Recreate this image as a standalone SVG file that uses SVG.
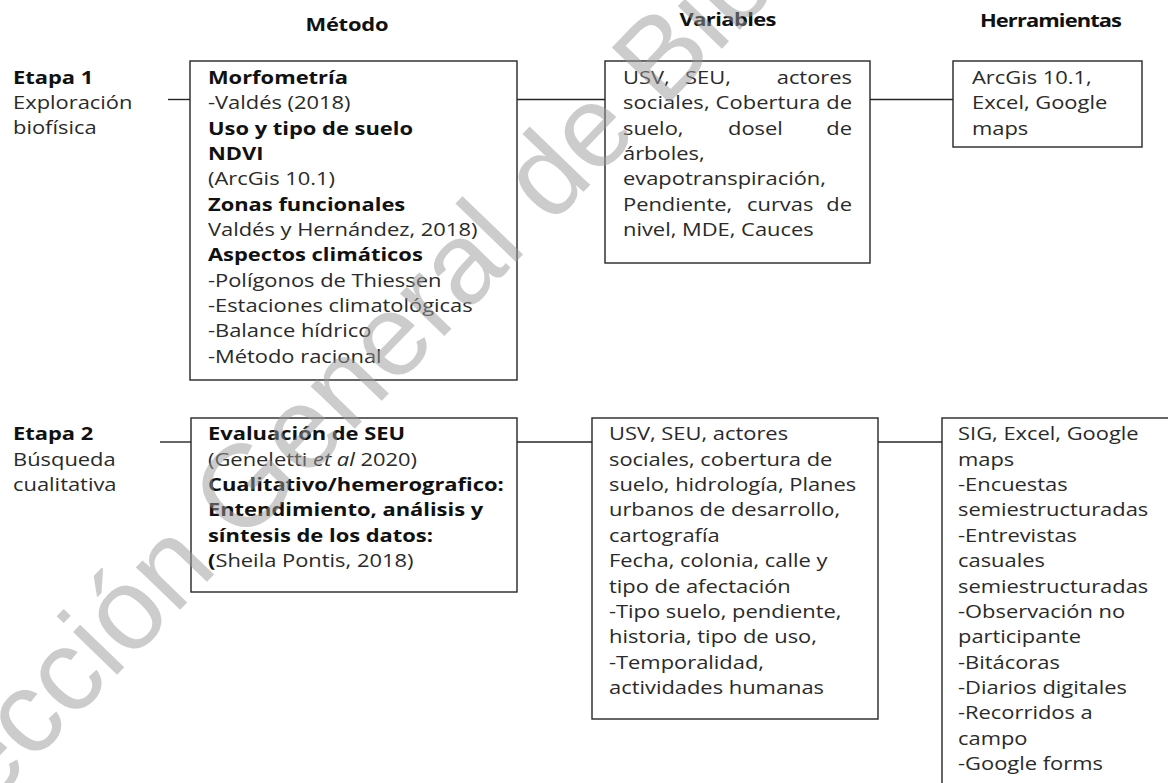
<svg xmlns="http://www.w3.org/2000/svg" width="1168" height="783" viewBox="0 0 1168 783">
<style>
.box{fill:#fff;stroke:#262626;stroke-width:1.4}
.ln{stroke:#262626;stroke-width:1.4;fill:none}
text{font-family:"Open Sans","Liberation Sans",sans-serif;font-size:18px;fill:#2a2a2a}
.b{font-weight:bold;fill:#111}
.h{font-weight:bold;fill:#111;text-anchor:middle}
.e{text-anchor:end}
.wm{font-family:"Liberation Sans",Arial,sans-serif;font-size:116px;fill:#9a9a9a;opacity:0.5}
</style>
<g id="connectors">
<line class="ln" x1="168" y1="99.5" x2="190" y2="99.5"/>
<line class="ln" x1="517" y1="99.5" x2="605" y2="99.5"/>
<line class="ln" x1="870" y1="99.5" x2="953" y2="99.5"/>
<line class="ln" x1="160" y1="442" x2="191" y2="442"/>
<line class="ln" x1="517" y1="442" x2="592" y2="442"/>
<line class="ln" x1="878" y1="442" x2="942" y2="442"/>
</g>
<g id="box-metodo1"><rect class="box" x="190" y="61" width="327" height="319"/></g>
<g id="box-variables1"><rect class="box" x="605" y="61" width="265" height="202"/></g>
<g id="box-herramientas1"><rect class="box" x="953" y="61" width="189" height="86"/></g>
<g id="box-metodo2"><rect class="box" x="191" y="418" width="326" height="174"/></g>
<g id="box-variables2"><rect class="box" x="592" y="418" width="286" height="301"/></g>
<g id="box-herramientas2"><rect class="box" x="942" y="418" width="260" height="400"/></g>
<g id="texts" transform="scale(1.217 1)">
<g id="headers">
<text class="h" x="285.1" y="31" textLength="68.2">Método</text>
<text class="h" x="598.2" y="26" textLength="79.7">Variables</text>
<text class="h" x="863.6" y="27" textLength="116.7">Herramientas</text>
</g>
<g id="etapa1">
<text class="b" x="10.7" y="84">Etapa 1</text>
<text x="10.7" y="109">Exploración</text>
<text x="10.7" y="134">biofísica</text>
</g>
<g id="metodo1-text">
<text class="b" x="170.9" y="84">Morfometría</text>
<text x="170.9" y="109.4">-Valdés (2018)</text>
<text class="b" x="170.9" y="134.7">Uso y tipo de suelo</text>
<text class="b" x="170.9" y="160">NDVI</text>
<text x="170.9" y="185.4">(ArcGis 10.1)</text>
<text class="b" x="170.9" y="210.8">Zonas funcionales</text>
<text x="170.9" y="236.1">Valdés y Hernández, 2018)</text>
<text class="b" x="170.9" y="261.5">Aspectos climáticos</text>
<text x="170.9" y="286.8">-Polígonos de Thiessen</text>
<text x="170.9" y="312.2">-Estaciones climatológicas</text>
<text x="170.9" y="337.5">-Balance hídrico</text>
<text x="170.9" y="362.9">-Método racional</text>
</g>
<g id="variables1-text">
<text x="511.9" y="84">USV,</text>
<text x="562.9" y="84">SEU,</text>
<text class="e" x="700.1" y="84">actores</text>
<text x="511.9" y="109.4" textLength="188.2" lengthAdjust="spacing">sociales, Cobertura de</text>
<text x="511.9" y="134.7">suelo,</text>
<text x="598.2" y="134.7">dosel</text>
<text class="e" x="700.1" y="134.7">de</text>
<text x="511.9" y="160">árboles,</text>
<text x="511.9" y="185.4">evapotranspiración,</text>
<text x="511.9" y="210.8">Pendiente,</text>
<text x="613.8" y="210.8">curvas</text>
<text class="e" x="700.1" y="210.8">de</text>
<text x="511.9" y="236.1">nivel, MDE, Cauces</text>
</g>
<g id="herramientas1-text">
<text x="798.7" y="84">ArcGis 10.1,</text>
<text x="798.7" y="109.4">Excel, Google</text>
<text x="798.7" y="134.7">maps</text>
</g>
<g id="etapa2">
<text class="b" x="10.7" y="440.5">Etapa 2</text>
<text x="10.7" y="465.8">Búsqueda</text>
<text x="10.7" y="491.2">cualitativa</text>
</g>
<g id="metodo2-text">
<text class="b" x="170.9" y="440.5">Evaluación de SEU</text>
<text x="170.9" y="465.8">(Geneletti <tspan font-style="italic">et al</tspan> 2020)</text>
<text class="b" x="170.9" y="491.2">Cualitativo/hemerografico:</text>
<text class="b" x="170.9" y="516.5">Entendimiento, análisis y</text>
<text class="b" x="170.9" y="541.9">síntesis de los datos:</text>
<text x="170.9" y="567.2"><tspan class="b">(</tspan>Sheila Pontis, 2018)</text>
</g>
<g id="variables2-text">
<text x="500.4" y="440.5">USV, SEU, actores</text>
<text x="500.4" y="465.8">sociales, cobertura de</text>
<text x="500.4" y="491.2">suelo, hidrología, Planes</text>
<text x="500.4" y="516.5">urbanos de desarrollo,</text>
<text x="500.4" y="541.9">cartografía</text>
<text x="500.4" y="567.2">Fecha, colonia, calle y</text>
<text x="500.4" y="592.6">tipo de afectación</text>
<text x="500.4" y="617.9">-Tipo suelo, pendiente,</text>
<text x="500.4" y="643.3">historia, tipo de uso,</text>
<text x="500.4" y="668.6">-Temporalidad,</text>
<text x="500.4" y="694">actividades humanas</text>
</g>
<g id="herramientas2-text">
<text x="787.2" y="440.5">SIG, Excel, Google</text>
<text x="787.2" y="465.8">maps</text>
<text x="787.2" y="491.2">-Encuestas</text>
<text x="787.2" y="516.5">semiestructuradas</text>
<text x="787.2" y="541.9">-Entrevistas</text>
<text x="787.2" y="567.2">casuales</text>
<text x="787.2" y="592.6">semiestructuradas</text>
<text x="787.2" y="617.9">-Observación no</text>
<text x="787.2" y="643.3">participante</text>
<text x="787.2" y="668.6">-Bitácoras</text>
<text x="787.2" y="694">-Diarios digitales</text>
<text x="787.2" y="719.3">-Recorridos a</text>
<text x="787.2" y="744.7">campo</text>
<text x="787.2" y="770">-Google forms</text>
</g>
</g>
<g id="watermark" transform="translate(-116.5 916.8) rotate(-46)">
<text class="wm" x="0" y="0">Dirección General de Bibliotecas</text>
</g>
</svg>
